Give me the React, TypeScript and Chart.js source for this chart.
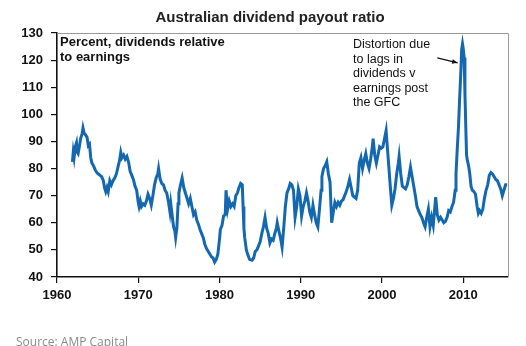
import React, { useEffect, useRef } from "react";
import { Chart, registerables } from "chart.js";

Chart.register(...registerables);

const TITLE = "Australian dividend payout ratio";
const NOTE_LEFT = ["Percent, dividends relative", "to earnings"];
const NOTE_RIGHT = ["Distortion due", "to lags in", "dividends v", "earnings post", "the GFC"];
const SOURCE = "Source: AMP Capital";

const xTicks = [1960, 1970, 1980, 1990, 2000, 2010];
const yTicks = [40, 50, 60, 70, 80, 90, 100, 110, 120, 130];

const years = [
  1961.9, 1962.0, 1962.1, 1962.25, 1962.4, 1962.5, 1962.6, 1962.75, 1962.9, 1963.1,
  1963.2, 1963.35, 1963.5, 1963.7, 1963.85, 1964.0, 1964.15, 1964.3, 1964.5, 1964.7,
  1964.9, 1965.1, 1965.3, 1965.5, 1965.7, 1965.85, 1966.0, 1966.15, 1966.3, 1966.5,
  1966.7, 1966.9, 1967.1, 1967.3, 1967.5, 1967.7, 1967.85, 1968.0, 1968.2, 1968.4,
  1968.6, 1968.8, 1969.0, 1969.2, 1969.4, 1969.6, 1969.8, 1970.0, 1970.1, 1970.25,
  1970.4, 1970.6, 1970.8, 1971.0, 1971.2, 1971.4, 1971.6, 1971.8, 1972.0, 1972.2,
  1972.4, 1972.5, 1972.7, 1972.9, 1973.1, 1973.3, 1973.5, 1973.7, 1973.9, 1974.0,
  1974.2, 1974.35, 1974.5, 1974.6, 1974.75, 1974.9, 1975.0, 1975.2, 1975.4, 1975.6,
  1975.8, 1976.0, 1976.2, 1976.4, 1976.6, 1976.8, 1977.0, 1977.2, 1977.4, 1977.6,
  1977.8, 1978.0, 1978.2, 1978.4, 1978.6, 1978.8, 1979.0, 1979.2, 1979.4, 1979.6,
  1979.8, 1980.0, 1980.1, 1980.3, 1980.5, 1980.7, 1980.8, 1981.0, 1981.2, 1981.4,
  1981.6, 1981.8, 1982.0, 1982.2, 1982.4, 1982.6, 1982.8, 1982.9, 1983.0, 1983.1,
  1983.3, 1983.5, 1983.7, 1984.0, 1984.2, 1984.4, 1984.6, 1984.8, 1985.0, 1985.2,
  1985.4, 1985.6, 1985.8, 1986.0, 1986.2, 1986.4, 1986.6, 1986.8, 1987.0, 1987.1,
  1987.3, 1987.5, 1987.7, 1987.9, 1988.1, 1988.3, 1988.5, 1988.7, 1988.9, 1989.1,
  1989.3, 1989.5, 1989.7, 1989.9, 1990.1, 1990.3, 1990.5, 1990.7, 1990.9, 1991.1,
  1991.3, 1991.5, 1991.7, 1991.9, 1992.1, 1992.3, 1992.5, 1992.6, 1992.8, 1993.0,
  1993.2, 1993.4, 1993.6, 1993.8, 1994.0, 1994.2, 1994.4, 1994.6, 1994.8, 1995.0,
  1995.2, 1995.4, 1995.6, 1995.8, 1996.0, 1996.2, 1996.4, 1996.6, 1996.8, 1997.0,
  1997.2, 1997.4, 1997.6, 1997.8, 1998.0, 1998.2, 1998.4, 1998.6, 1998.8, 1998.9,
  1999.1, 1999.3, 1999.5, 1999.7, 1999.9, 2000.1, 2000.3, 2000.5, 2000.65, 2000.8,
  2001.0, 2001.2, 2001.4, 2001.6, 2001.8, 2002.0, 2002.1, 2002.3, 2002.5, 2002.7,
  2002.9, 2003.1, 2003.3, 2003.5, 2003.7, 2003.9, 2004.1, 2004.3, 2004.5, 2004.7,
  2004.9, 2005.1, 2005.3, 2005.5, 2005.7, 2005.9, 2006.1, 2006.3, 2006.5, 2006.6,
  2006.8, 2007.0, 2007.2, 2007.4, 2007.6, 2007.8, 2008.0, 2008.2, 2008.4, 2008.6,
  2008.8, 2009.0, 2009.1, 2009.25, 2009.4, 2009.55, 2009.7, 2009.8, 2009.9, 2010.0,
  2010.1, 2010.2, 2010.3, 2010.4, 2010.5, 2010.65, 2010.8, 2010.95, 2011.1, 2011.3,
  2011.5, 2011.7, 2011.85, 2012.0, 2012.2, 2012.4, 2012.6, 2012.8, 2013.0, 2013.2,
  2013.4, 2013.6, 2013.8, 2014.0, 2014.2, 2014.4, 2014.6, 2014.8, 2015.0, 2015.2,
  2015.4,
];

const payout = [
  82.5, 86, 84, 88, 89.5, 86, 85.5, 88, 91, 93,
  95, 93, 92.5, 91.5, 88.5, 89, 84, 82, 81, 79.5,
  78.5, 78, 77.5, 77, 75.5, 73, 71.5, 73, 71.5, 75.5,
  74, 75.5, 76.5, 78, 80.5, 83, 86, 84, 85, 83.5,
  84.5, 82.5, 79, 77.5, 76, 73.5, 72, 67.5, 66, 68,
  66, 67, 66.5, 68, 70.5, 69, 66.5, 70, 74, 76.5,
  78, 80, 76, 74.5, 74, 72, 71, 68, 64, 67,
  62, 58.5, 57, 54.5, 58, 67, 71, 74, 76.5, 73,
  71, 69, 67, 69, 66, 63, 64, 61, 59.5, 57.5,
  56, 54.5, 52, 50.5, 49.5, 48.5, 47.5, 47, 45.5, 46.5,
  48.5, 54, 57.5, 59, 62.5, 63, 72, 65, 68, 66,
  67, 66, 70, 71, 73, 74.5, 74, 66, 58, 54.5,
  50, 48, 46.5, 46.2, 47, 49.5, 50, 51.5, 53, 56,
  58.5, 62, 58, 56, 52.5, 54, 53.5, 56, 58, 60,
  57, 54.5, 51, 58, 66, 71, 72.5, 74.5, 74, 72,
  62, 66, 72.5, 70, 62.5, 66, 68, 71, 68, 64,
  62, 66.5, 63, 60, 58.5, 65, 72, 77, 80, 81,
  82.5, 78, 75, 60, 64, 67.5, 66, 67.5, 66.5, 68,
  68.5, 70, 71.5, 73.5, 76, 73, 70, 69.5, 69, 72,
  82, 84, 80, 83, 85.5, 82, 80, 83.5, 88, 91,
  85, 82, 85, 88, 87.5, 88, 91, 94, 88, 82,
  74, 66.5, 69, 72.5, 78, 82, 84.5, 78, 73.5, 73,
  72.5, 74, 77, 80.5, 77, 73.5, 70, 66, 64.5, 63,
  62, 60, 58.5, 62, 65, 58.5, 62, 59, 66, 69.5,
  63, 61, 62, 61, 60, 60.5, 62, 64.5, 64, 66,
  67.5, 72, 78, 87, 95, 106, 116, 124, 126, 124,
  121, 108, 96, 85, 83, 81, 78, 73.5, 72, 71.5,
  70.5, 66, 63.5, 64.5, 63.5, 65, 69, 72, 74, 77.5,
  78.5, 78, 77, 76, 75.5, 74, 72.5, 70, 72, 74,
  74,
];

// arrow in data coordinates: from text toward the GFC spike
const arrowFrom = { x: 2006.8, y: 120.8 };
const arrowTo = { x: 2009.3, y: 119 };

const FONT = "'Liberation Sans', Arial, Helvetica, sans-serif";

const decorPlugin = {
  id: "decor",
  beforeDatasetsDraw(chart: any) {
    const { ctx, chartArea } = chart;
    ctx.save();
    ctx.strokeStyle = "#9a9a9a";
    ctx.lineWidth = 1;
    ctx.beginPath();
    ctx.moveTo(chartArea.left, chartArea.top + 0.5);
    ctx.lineTo(chartArea.right + 0.5, chartArea.top + 0.5);
    ctx.lineTo(chartArea.right + 0.5, chartArea.bottom);
    ctx.stroke();
    ctx.restore();
  },
  afterDraw(chart: any) {
    const { ctx, chartArea } = chart;
    const xs = chart.scales.x;
    const ys = chart.scales.y;
    ctx.save();
    // title
    ctx.fillStyle = "#222";
    ctx.font = `bold 15px ${FONT}`;
    ctx.textAlign = "center";
    ctx.textBaseline = "middle";
    ctx.fillText(TITLE, 270, 18);

    // left note
    ctx.fillStyle = "#111";
    ctx.font = `bold 13px ${FONT}`;
    ctx.textAlign = "left";
    NOTE_LEFT.forEach((t, i) => ctx.fillText(t, chartArea.left + 3, chartArea.top + 9 + i * 15.5));

    // right note
    ctx.font = `12.5px ${FONT}`;
    NOTE_RIGHT.forEach((t, i) => ctx.fillText(t, 353, chartArea.top + 12 + i * 14.5));

    // arrow
    const x1 = xs.getPixelForValue(arrowFrom.x);
    const y1 = ys.getPixelForValue(arrowFrom.y);
    const x2 = xs.getPixelForValue(arrowTo.x);
    const y2 = ys.getPixelForValue(arrowTo.y);
    ctx.strokeStyle = "#111";
    ctx.fillStyle = "#111";
    ctx.lineWidth = 1.2;
    ctx.beginPath();
    ctx.moveTo(x1, y1);
    ctx.lineTo(x2, y2);
    ctx.stroke();
    const ang = Math.atan2(y2 - y1, x2 - x1);
    const L = 6;
    ctx.beginPath();
    ctx.moveTo(x2, y2);
    ctx.lineTo(x2 - L * Math.cos(ang - 0.4), y2 - L * Math.sin(ang - 0.4));
    ctx.lineTo(x2 - L * Math.cos(ang + 0.4), y2 - L * Math.sin(ang + 0.4));
    ctx.closePath();
    ctx.fill();
    ctx.restore();
  },
};

export default function App() {
  const ref = useRef<HTMLCanvasElement | null>(null);

  useEffect(() => {
    if (!ref.current) return;
    const data = years.map((x, i) => ({ x, y: payout[i] }));
    const chart = new Chart(ref.current, {
      type: "line",
      data: {
        datasets: [
          {
            data,
            borderColor: "#1468b0",
            borderWidth: 3,
            pointRadius: 0,
            tension: 0,
            fill: false,
          },
        ],
      },
      options: {
        animation: false,
        responsive: false,
        maintainAspectRatio: false,
        layout: { padding: { top: 33, right: 18, left: 0, bottom: 0 } },
        plugins: { legend: { display: false }, tooltip: { enabled: false }, title: { display: false } },
        scales: {
          x: {
            type: "linear",
            min: 1960,
            max: 2015.5,
            afterFit: (s: any) => {
              s.height = 69;
            },
            afterBuildTicks: (s: any) => {
              s.ticks = xTicks.map((v) => ({ value: v }));
            },
            grid: { drawOnChartArea: false, drawTicks: true, tickLength: 6, color: "#111", lineWidth: 1.2 },
            border: { display: true, color: "#111", width: 1.6 },
            ticks: {
              color: "#111",
              font: { family: FONT, size: 13, weight: "bold" },
              padding: 5,
              maxRotation: 0,
              callback: (v: any) => String(v),
            },
          },
          y: {
            min: 40,
            max: 130,
            afterFit: (s: any) => {
              s.width = 57;
            },
            afterBuildTicks: (s: any) => {
              s.ticks = yTicks.map((v) => ({ value: v }));
            },
            grid: { drawOnChartArea: false, drawTicks: true, tickLength: 6, color: "#111", lineWidth: 1.2 },
            border: { display: true, color: "#111", width: 1.6 },
            ticks: {
              color: "#111",
              font: { family: FONT, size: 13, weight: "bold" },
              padding: 8,
              callback: (v: any) => String(v),
            },
          },
        },
      },
      plugins: [decorPlugin],
    } as any);
    return () => chart.destroy();
  }, []);

  return (
    <div style={{ position: "fixed", left: 0, top: 0, width: 526, height: 346, background: "#fff", overflow: "hidden" }}>
      <canvas ref={ref} width={526} height={346} style={{ display: "block", width: 526, height: 346 }} />
      <div
        style={{
          position: "absolute",
          left: 16,
          top: 333,
          fontFamily: "'Open Sans', sans-serif",
          fontSize: 12,
          color: "#8a8a8a",
          whiteSpace: "nowrap",
        }}
      >
        {SOURCE}
      </div>
    </div>
  );
}
